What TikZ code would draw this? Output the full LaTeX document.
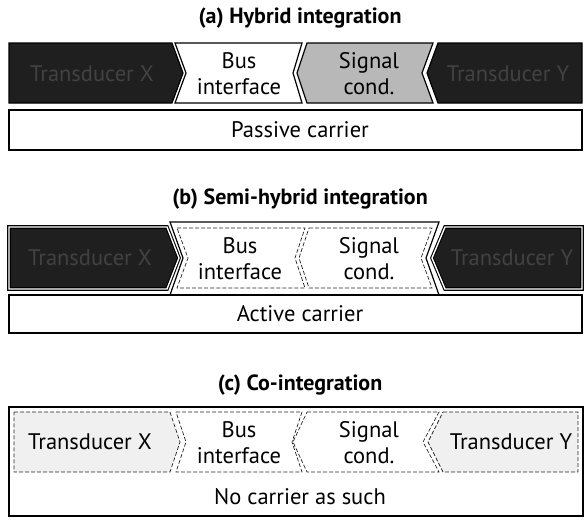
\documentclass[tikz,border=0pt]{standalone}
\usepackage{fontspec}
\setmainfont{PT Sans}
\begin{document}
\begin{tikzpicture}[x=1pt,y=-1pt,
  outline/.style={draw=black, line width=1.2pt, line join=miter},
  darkpart/.style={outline, fill=black!88},
  darkrim/.style={outline, fill=black!88, double=white, double distance=1.4pt, line width=1.1pt},
  greypart/.style={outline, fill=black!28},
  whitepart/.style={outline, fill=white},
  dashpart/.style={draw=black!85, line width=0.7pt, dash pattern=on 4pt off 2pt},
  lightpart/.style={dashpart, fill=black!6},
  carrier/.style={outline},
  txt/.style={font=\fontsize{22.5}{26}\selectfont, align=center, inner sep=0pt},
  dimtxt/.style={txt, text=black!74},
  title/.style={font=\fontsize{22}{25}\selectfont\bfseries, inner sep=0pt}
]
\useasboundingbox (0,0) rectangle (588,520);

% ---------- (a) Hybrid integration ----------
\node[title] (ta) at (300,18) {(a) Hybrid integration};
\path[darkpart]  (9,43) -- (172,43) -- (183,73) -- (172,103) -- (9,103) -- cycle;
\path[whitepart] (175,43) -- (302,43) -- (293,73) -- (302,103) -- (175,103) -- (186,73) -- cycle;
\path[greypart]  (307,43) -- (433,43) -- (422,73) -- (433,103) -- (307,103) -- (297,73) -- cycle;
\path[darkpart]  (438,43) -- (582,43) -- (582,103) -- (438,103) -- (427,73) -- cycle;
\node[dimtxt] (ax) at (92,74) {Transducer X};
\node[txt] (ab) at (239,74) {Bus\\interface};
\node[txt] (as) at (369,74) {Signal\\cond.};
\node[dimtxt] (ay) at (508,74) {Transducer Y};
\path[carrier] (9,110) rectangle (582,150);
\node[txt] (ac) at (300,130) {Passive carrier};

% ---------- (b) Semi-hybrid integration ----------
\node[title] (tb) at (300,199) {(b) Semi-hybrid integration};
\path[whitepart] (170,222) -- (439,222) -- (426,258) -- (439,295) -- (170,295) -- (183,258) -- cycle;
\path[darkrim] (9,227) -- (167,227) -- (179,258) -- (167,289) -- (9,289) -- cycle;
\path[darkrim] (445,227) -- (582,227) -- (582,289) -- (445,289) -- (432,258) -- cycle;
\path[dashpart] (177,228) -- (305,228) -- (295,258) -- (305,288) -- (177,288) -- (188,258) -- cycle;
\path[dashpart] (309,228) -- (432,228) -- (421,258) -- (432,288) -- (309,288) -- (299,258) -- cycle;
\node[dimtxt] (bx) at (90,258) {Transducer X};
\node[txt] (bb) at (240,259) {Bus\\interface};
\node[txt] (bs) at (369,259) {Signal\\cond.};
\node[dimtxt] (by) at (512,258) {Transducer Y};
\path[carrier] (9,295) rectangle (582,333);
\node[txt] (bc) at (300,314) {Active carrier};

% ---------- (c) Co-integration ----------
\node[title] (tc) at (300,385) {(c) Co-integration};
\path[carrier] (9,407) rectangle (583,516);
\path[lightpart] (14,412) -- (170,412) -- (180,442) -- (170,472) -- (14,472) -- cycle;
\path[dashpart]  (176,412) -- (302,412) -- (292,442) -- (302,472) -- (176,472) -- (186,442) -- cycle;
\path[dashpart]  (307,412) -- (439,412) -- (423,442) -- (439,472) -- (307,472) -- (293,442) -- cycle;
\path[lightpart] (443,412) -- (578,412) -- (578,472) -- (443,472) -- (428,442) -- cycle;
\node[txt] (cx) at (90,442) {Transducer X};
\node[txt] (cb) at (239,443) {Bus\\interface};
\node[txt] (cs) at (369,443) {Signal\\cond.};
\node[txt] (cy) at (511,442) {Transducer Y};
\node[txt] (cc) at (300,497) {No carrier as such};
\end{tikzpicture}
\end{document}
